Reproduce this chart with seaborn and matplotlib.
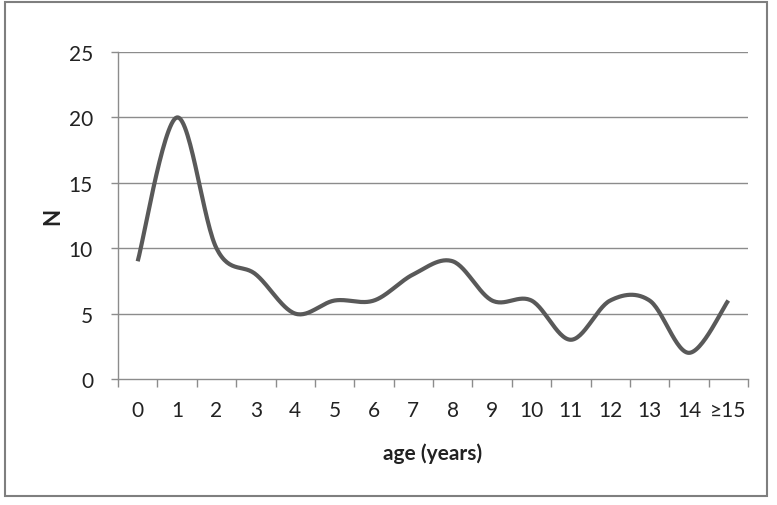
import numpy as np
import pandas as pd
import matplotlib
matplotlib.use("Agg")
import matplotlib.pyplot as plt
import seaborn as sns
from matplotlib.patches import Rectangle

categories = ["0", "1", "2", "3", "4", "5", "6", "7", "8", "9", "10", "11", "12", "13", "14", "\u226515"]
counts = [9, 20, 10, 8, 5, 6, 6, 8, 9, 6, 6, 3, 6, 6, 2, 6]
y_ticks = [0, 5, 10, 15, 20, 25]

sns.set_theme(style="white")
plt.rcParams['font.family'] = ['Lato', 'DejaVu Sans']

# Smooth curve (Catmull-Rom, Excel-like) through the data points
def catmull_rom(xs, ys, n=30):
    xs = np.asarray(xs, float); ys = np.asarray(ys, float)
    px = np.concatenate([[xs[0]], xs, [xs[-1]]])
    py = np.concatenate([[ys[0]], ys, [ys[-1]]])
    out_x, out_y = [], []
    for i in range(1, len(px) - 2):
        p0, p1, p2, p3 = (np.array([px[j], py[j]]) for j in (i - 1, i, i + 1, i + 2))
        c1 = p1 + (p2 - p0) / 6.0
        c2 = p2 - (p3 - p1) / 6.0
        t = np.linspace(0, 1, n, endpoint=(i == len(px) - 3))
        b = ((1 - t) ** 3)[:, None] * p1 + (3 * (1 - t) ** 2 * t)[:, None] * c1 \
            + (3 * (1 - t) * t ** 2)[:, None] * c2 + (t ** 3)[:, None] * p2
        out_x.extend(b[:, 0]); out_y.extend(b[:, 1])
    return np.array(out_x), np.array(out_y)

xpos = np.arange(len(categories))
sx, sy = catmull_rom(xpos, counts)
df = pd.DataFrame({"x": sx, "y": sy})

fig = plt.figure(figsize=(7.77, 5.06), dpi=100)
ax = fig.add_axes([118 / 777, 1 - 380 / 506, (748 - 118) / 777, (380 - 53) / 506])

ax.set_ylim(0, 25)
ax.set_xlim(-0.5, len(categories) - 0.5)
ax.set_yticks(y_ticks)
for yv in y_ticks[1:]:
    ax.axhline(yv, color="#8c8c8c", lw=1.0, zorder=0)

sns.lineplot(data=df, x="x", y="y", ax=ax, color="#595959", lw=3.0, sort=False,
             solid_capstyle="butt")

ax.set_xticks(xpos)
ax.set_xticklabels(categories)
ax.set_xticks(np.arange(-0.5, len(categories), 1.0), minor=True)
ax.tick_params(axis="x", which="major", length=0, pad=15, labelsize=15, colors="#222222")
ax.tick_params(axis="x", which="minor", length=6, width=1.0, color="#8c8c8c", direction="out")
ax.tick_params(axis="y", which="major", length=5, width=1.0, color="#8c8c8c", direction="out",
               pad=13, labelsize=15, labelcolor="#222222")
ax.tick_params(left=True, bottom=True, which="both")

for s in ["top", "right"]:
    ax.spines[s].set_visible(False)
for s in ["left", "bottom"]:
    ax.spines[s].set_color("#8c8c8c")
    ax.spines[s].set_linewidth(1.0)

ax.set_xlabel("age (years)", fontsize=15, fontweight="bold", color="#222222", labelpad=16)
ax.set_ylabel("N", fontsize=16, fontweight="bold", color="#222222", labelpad=4)

fig.patches.append(Rectangle((5 / 777, 1 - 497 / 506), (767 - 5) / 777, (497 - 3) / 506,
                             transform=fig.transFigure, fill=False, edgecolor="#7f7f7f", lw=1.5))

fig.savefig("out.png", dpi=100)
